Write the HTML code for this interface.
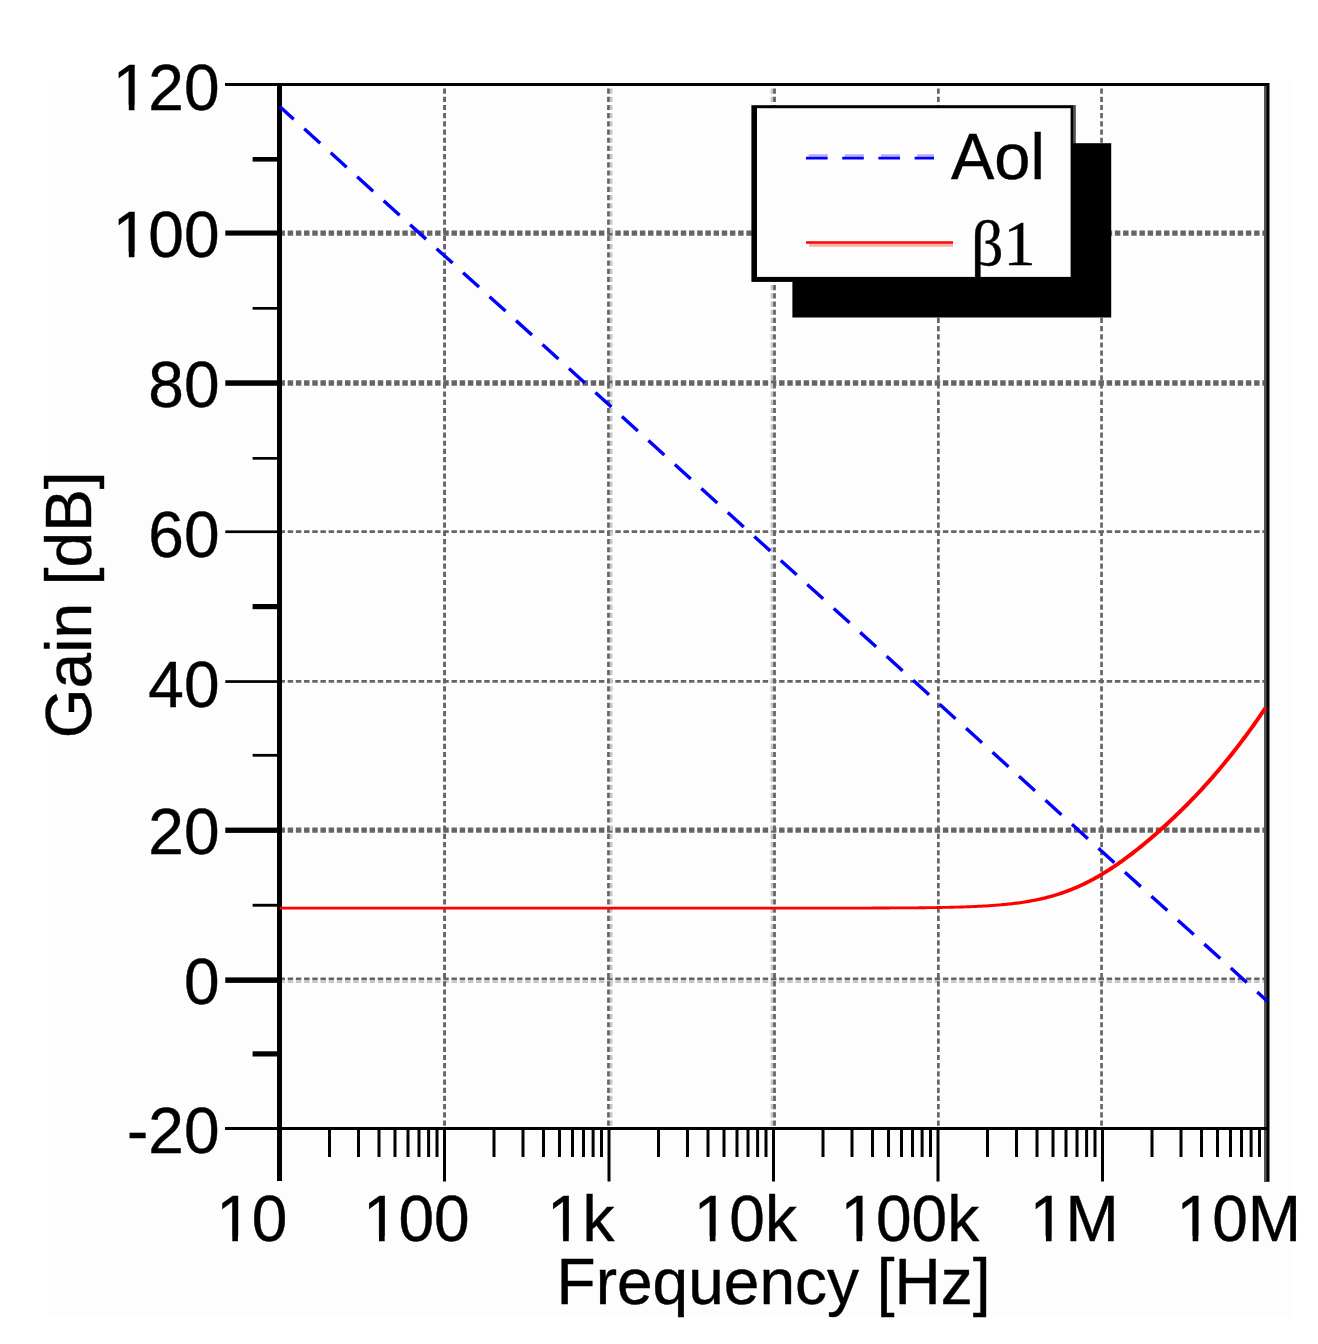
<!DOCTYPE html>
<html><head><meta charset="utf-8"><style>
html,body{margin:0;padding:0;background:#fff;}
svg{display:block;}
text{font-family:"Liberation Sans",sans-serif;fill:#000;stroke:#000;stroke-width:0.4px;}
</style></head><body>
<svg width="1318" height="1344" viewBox="0 0 1318 1344">
<rect x="0" y="0" width="1318" height="1344" fill="#fff"/>
<rect x="48" y="80" width="1245" height="1238" fill="#fdfdfd"/>

<defs><mask id="nofoot" maskUnits="userSpaceOnUse" x="0" y="0" width="1318" height="1344"><rect x="0" y="0" width="1318" height="1344" fill="#fff"/>
<rect x="116.47" y="104.84" width="12.34" height="6.88" fill="#000"/>
<rect x="134.47" y="104.84" width="12.00" height="6.88" fill="#000"/>
<rect x="116.47" y="251.74" width="12.34" height="6.88" fill="#000"/>
<rect x="134.47" y="251.74" width="12.00" height="6.88" fill="#000"/>
<rect x="219.96" y="1235.84" width="12.34" height="6.88" fill="#000"/>
<rect x="237.96" y="1235.84" width="12.00" height="6.88" fill="#000"/>
<rect x="366.66" y="1235.84" width="12.34" height="6.88" fill="#000"/>
<rect x="384.66" y="1235.84" width="12.00" height="6.88" fill="#000"/>
<rect x="550.75" y="1235.84" width="12.34" height="6.88" fill="#000"/>
<rect x="568.75" y="1235.84" width="12.00" height="6.88" fill="#000"/>
<rect x="697.46" y="1235.84" width="12.34" height="6.88" fill="#000"/>
<rect x="715.46" y="1235.84" width="12.00" height="6.88" fill="#000"/>
<rect x="844.16" y="1235.84" width="12.34" height="6.88" fill="#000"/>
<rect x="862.16" y="1235.84" width="12.00" height="6.88" fill="#000"/>
<rect x="1033.60" y="1235.84" width="12.34" height="6.88" fill="#000"/>
<rect x="1051.60" y="1235.84" width="12.00" height="6.88" fill="#000"/>
<rect x="1180.30" y="1235.84" width="12.34" height="6.88" fill="#000"/>
<rect x="1198.30" y="1235.84" width="12.00" height="6.88" fill="#000"/>
</mask></defs>
<line x1="282" y1="233.20" x2="1264" y2="233.20" stroke="#686464" stroke-width="5.20" stroke-dasharray="5.46 2.73" stroke-dashoffset="2.5"/>
<line x1="282" y1="383.05" x2="1264" y2="383.05" stroke="#686464" stroke-width="5.50" stroke-dasharray="5.46 2.73" stroke-dashoffset="2.5"/>
<line x1="282" y1="531.70" x2="1264" y2="531.70" stroke="#686464" stroke-width="2.80" stroke-dasharray="5.46 2.73" stroke-dashoffset="2.5"/>
<line x1="282" y1="681.40" x2="1264" y2="681.40" stroke="#686464" stroke-width="2.80" stroke-dasharray="5.46 2.73" stroke-dashoffset="2.5"/>
<line x1="282" y1="830.15" x2="1264" y2="830.15" stroke="#686464" stroke-width="5.30" stroke-dasharray="5.46 2.73" stroke-dashoffset="2.5"/>
<line x1="282" y1="978.85" x2="1264" y2="978.85" stroke="#686464" stroke-width="2.70" stroke-dasharray="5.46 2.73" stroke-dashoffset="2.5"/>
<line x1="282" y1="981.55" x2="1264" y2="981.55" stroke="#c4c8cc" stroke-width="2.70" stroke-dasharray="5.46 2.73" stroke-dashoffset="2.5"/>
<line x1="444.55" y1="86" x2="444.55" y2="1127" stroke="#686464" stroke-width="2.90" stroke-dasharray="5.2 2.99" stroke-dashoffset="5.69"/>
<line x1="608.50" y1="86" x2="608.50" y2="1127" stroke="#686464" stroke-width="2.80" stroke-dasharray="5.2 2.99" stroke-dashoffset="5.69"/>
<line x1="611.20" y1="86" x2="611.20" y2="1127" stroke="#c4c8cc" stroke-width="2.60" stroke-dasharray="5.2 2.99" stroke-dashoffset="5.69"/>
<line x1="771.85" y1="86" x2="771.85" y2="1127" stroke="#c4c8cc" stroke-width="2.50" stroke-dasharray="5.2 2.99" stroke-dashoffset="5.69"/>
<line x1="774.50" y1="86" x2="774.50" y2="1127" stroke="#686464" stroke-width="2.80" stroke-dasharray="5.2 2.99" stroke-dashoffset="5.69"/>
<line x1="938.35" y1="86" x2="938.35" y2="1127" stroke="#686464" stroke-width="2.70" stroke-dasharray="5.2 2.99" stroke-dashoffset="5.69"/>
<line x1="1101.55" y1="86" x2="1101.55" y2="1127" stroke="#686464" stroke-width="2.70" stroke-dasharray="5.2 2.99" stroke-dashoffset="5.69"/>
<rect x="225" y="83" width="1044" height="3" fill="#000"/>
<rect x="225" y="1127" width="1044" height="3" fill="#000"/>
<rect x="277" y="83" width="5" height="1098" fill="#000"/>
<rect x="1264" y="83" width="5.5" height="1098.8" fill="#000"/>
<rect x="1264" y="86" width="2.5" height="1041" fill="#555"/>
<rect x="1264" y="1130" width="2.5" height="51.8" fill="#555"/>
<rect x="225.3" y="230.5" width="54" height="5.10" fill="#000"/>
<rect x="225.3" y="380.3" width="54" height="5.50" fill="#000"/>
<rect x="225.3" y="530.4" width="54" height="2.70" fill="#000"/>
<rect x="225.3" y="680.2" width="54" height="2.70" fill="#000"/>
<rect x="225.3" y="827.6" width="54" height="5.30" fill="#000"/>
<rect x="225.3" y="977.4" width="54" height="5.50" fill="#000"/>
<rect x="252.6" y="157.0" width="27" height="4.60" fill="#000"/>
<rect x="252.6" y="307.0" width="27" height="2.70" fill="#000"/>
<rect x="252.6" y="457.0" width="27" height="2.70" fill="#000"/>
<rect x="252.6" y="604.0" width="27" height="5.20" fill="#000"/>
<rect x="252.6" y="753.9" width="27" height="2.80" fill="#000"/>
<rect x="252.6" y="903.8" width="27" height="2.90" fill="#000"/>
<rect x="252.6" y="1051.3" width="27" height="5.20" fill="#000"/>
<rect x="443.0" y="1130" width="3" height="51.5" fill="#000"/>
<rect x="607.5" y="1130" width="3" height="51.5" fill="#000"/>
<rect x="772.0" y="1130" width="3" height="51.5" fill="#000"/>
<rect x="936.5" y="1130" width="3" height="51.5" fill="#000"/>
<rect x="1101.0" y="1130" width="3" height="51.5" fill="#000"/>
<rect x="328.0" y="1130" width="3" height="27" fill="#000"/>
<rect x="357.0" y="1130" width="3" height="27" fill="#000"/>
<rect x="377.5" y="1130" width="3" height="27" fill="#000"/>
<rect x="393.5" y="1130" width="3" height="27" fill="#000"/>
<rect x="406.5" y="1130" width="3" height="27" fill="#000"/>
<rect x="417.5" y="1130" width="3" height="27" fill="#000"/>
<rect x="427.1" y="1130" width="3" height="27" fill="#000"/>
<rect x="435.5" y="1130" width="3" height="27" fill="#000"/>
<rect x="492.5" y="1130" width="3" height="27" fill="#000"/>
<rect x="521.5" y="1130" width="3" height="27" fill="#000"/>
<rect x="542.0" y="1130" width="3" height="27" fill="#000"/>
<rect x="558.0" y="1130" width="3" height="27" fill="#000"/>
<rect x="571.0" y="1130" width="3" height="27" fill="#000"/>
<rect x="582.0" y="1130" width="3" height="27" fill="#000"/>
<rect x="591.6" y="1130" width="3" height="27" fill="#000"/>
<rect x="600.0" y="1130" width="3" height="27" fill="#000"/>
<rect x="657.0" y="1130" width="3" height="27" fill="#000"/>
<rect x="686.0" y="1130" width="3" height="27" fill="#000"/>
<rect x="706.5" y="1130" width="3" height="27" fill="#000"/>
<rect x="722.5" y="1130" width="3" height="27" fill="#000"/>
<rect x="735.5" y="1130" width="3" height="27" fill="#000"/>
<rect x="746.5" y="1130" width="3" height="27" fill="#000"/>
<rect x="756.1" y="1130" width="3" height="27" fill="#000"/>
<rect x="764.5" y="1130" width="3" height="27" fill="#000"/>
<rect x="821.5" y="1130" width="3" height="27" fill="#000"/>
<rect x="850.5" y="1130" width="3" height="27" fill="#000"/>
<rect x="871.0" y="1130" width="3" height="27" fill="#000"/>
<rect x="887.0" y="1130" width="3" height="27" fill="#000"/>
<rect x="900.0" y="1130" width="3" height="27" fill="#000"/>
<rect x="911.0" y="1130" width="3" height="27" fill="#000"/>
<rect x="920.6" y="1130" width="3" height="27" fill="#000"/>
<rect x="929.0" y="1130" width="3" height="27" fill="#000"/>
<rect x="986.0" y="1130" width="3" height="27" fill="#000"/>
<rect x="1015.0" y="1130" width="3" height="27" fill="#000"/>
<rect x="1035.5" y="1130" width="3" height="27" fill="#000"/>
<rect x="1051.5" y="1130" width="3" height="27" fill="#000"/>
<rect x="1064.5" y="1130" width="3" height="27" fill="#000"/>
<rect x="1075.5" y="1130" width="3" height="27" fill="#000"/>
<rect x="1085.1" y="1130" width="3" height="27" fill="#000"/>
<rect x="1093.5" y="1130" width="3" height="27" fill="#000"/>
<rect x="1150.5" y="1130" width="3" height="27" fill="#000"/>
<rect x="1179.5" y="1130" width="3" height="27" fill="#000"/>
<rect x="1200.0" y="1130" width="3" height="27" fill="#000"/>
<rect x="1216.0" y="1130" width="3" height="27" fill="#000"/>
<rect x="1229.0" y="1130" width="3" height="27" fill="#000"/>
<rect x="1240.0" y="1130" width="3" height="27" fill="#000"/>
<rect x="1249.6" y="1130" width="3" height="27" fill="#000"/>
<rect x="1258.0" y="1130" width="3" height="27" fill="#000"/>
<line x1="280" y1="106.8" x2="1267" y2="1000.9" stroke="#0000ff" stroke-width="3.4" stroke-dasharray="21.5 14.22" stroke-dashoffset="3.0"/>
<polygon points="280.00,906.73 280.24,906.73 281.88,906.73 283.53,906.73 285.17,906.73 286.81,906.73 288.45,906.73 290.10,906.73 291.74,906.73 293.38,906.73 295.03,906.73 296.67,906.73 298.31,906.73 299.95,906.73 301.60,906.73 303.24,906.73 304.88,906.73 306.52,906.73 308.17,906.73 309.81,906.73 311.45,906.73 313.09,906.73 314.74,906.73 316.38,906.73 318.02,906.73 319.66,906.73 321.31,906.73 322.95,906.73 324.59,906.73 326.23,906.73 327.88,906.73 329.52,906.73 331.16,906.73 332.80,906.73 334.45,906.73 336.09,906.73 337.73,906.73 339.37,906.73 341.01,906.73 342.66,906.73 344.30,906.73 345.94,906.73 347.59,906.73 349.23,906.73 350.87,906.73 352.51,906.73 354.16,906.73 355.80,906.73 357.44,906.73 359.08,906.73 360.73,906.73 362.37,906.73 364.01,906.73 365.65,906.73 367.30,906.73 368.94,906.73 370.58,906.73 372.22,906.73 373.87,906.73 375.51,906.73 377.15,906.73 378.79,906.73 380.44,906.73 382.08,906.73 383.72,906.73 385.36,906.73 387.00,906.73 388.65,906.73 390.29,906.73 391.93,906.73 393.58,906.73 395.22,906.73 396.86,906.73 398.50,906.73 400.14,906.73 401.79,906.73 403.43,906.73 405.07,906.73 406.72,906.73 408.36,906.73 410.00,906.73 411.64,906.73 413.29,906.73 414.93,906.73 416.57,906.73 418.21,906.73 419.86,906.73 421.50,906.73 423.14,906.73 424.78,906.73 426.43,906.73 428.07,906.73 429.71,906.73 431.35,906.73 433.00,906.73 434.64,906.73 436.28,906.73 437.92,906.73 439.57,906.73 441.21,906.73 442.85,906.73 444.49,906.73 446.13,906.73 447.78,906.73 449.42,906.73 451.06,906.73 452.71,906.73 454.35,906.73 455.99,906.73 457.63,906.73 459.27,906.73 460.92,906.73 462.56,906.73 464.20,906.73 465.84,906.73 467.49,906.73 469.13,906.73 470.77,906.73 472.41,906.73 474.06,906.73 475.70,906.73 477.34,906.73 478.98,906.73 480.63,906.73 482.27,906.73 483.91,906.73 485.56,906.73 487.20,906.73 488.84,906.73 490.48,906.73 492.12,906.73 493.77,906.73 495.41,906.73 497.05,906.73 498.70,906.73 500.34,906.73 501.98,906.73 503.62,906.73 505.26,906.73 506.91,906.73 508.55,906.73 510.19,906.73 511.84,906.73 513.48,906.73 515.12,906.73 516.76,906.73 518.41,906.73 520.05,906.73 521.69,906.73 523.33,906.73 524.98,906.73 526.62,906.73 528.26,906.73 529.90,906.73 531.55,906.73 533.19,906.73 534.83,906.73 536.47,906.73 538.12,906.73 539.76,906.73 541.40,906.73 543.04,906.73 544.69,906.73 546.33,906.73 547.97,906.73 549.61,906.73 551.25,906.73 552.90,906.73 554.54,906.73 556.18,906.73 557.82,906.73 559.47,906.73 561.11,906.73 562.75,906.73 564.39,906.73 566.04,906.73 567.68,906.73 569.32,906.73 570.97,906.73 572.61,906.73 574.25,906.73 575.89,906.73 577.53,906.73 579.18,906.73 580.82,906.73 582.46,906.73 584.10,906.73 585.75,906.73 587.39,906.73 589.03,906.73 590.67,906.73 592.32,906.73 593.96,906.73 595.60,906.73 597.25,906.73 598.89,906.73 600.53,906.73 602.17,906.73 603.82,906.73 605.46,906.73 607.10,906.73 608.74,906.73 610.38,906.73 612.03,906.73 613.67,906.73 615.31,906.73 616.96,906.73 618.60,906.73 620.24,906.73 621.88,906.73 623.52,906.73 625.17,906.73 626.81,906.73 628.45,906.73 630.09,906.73 631.74,906.73 633.38,906.73 635.02,906.73 636.66,906.73 638.31,906.73 639.95,906.73 641.59,906.73 643.24,906.73 644.88,906.73 646.52,906.73 648.16,906.73 649.80,906.73 651.45,906.73 653.09,906.73 654.73,906.73 656.38,906.73 658.02,906.73 659.66,906.73 661.30,906.73 662.95,906.73 664.59,906.73 666.23,906.73 667.87,906.73 669.51,906.73 671.16,906.73 672.80,906.73 674.44,906.73 676.08,906.73 677.73,906.73 679.37,906.73 681.01,906.73 682.66,906.73 684.30,906.73 685.94,906.73 687.58,906.73 689.23,906.73 690.87,906.73 692.51,906.73 694.15,906.72 695.79,906.72 697.44,906.72 699.08,906.72 700.72,906.72 702.37,906.72 704.01,906.72 705.65,906.72 707.29,906.72 708.94,906.72 710.58,906.72 712.22,906.72 713.86,906.72 715.50,906.72 717.15,906.72 718.79,906.72 720.43,906.72 722.07,906.72 723.72,906.72 725.36,906.72 727.00,906.72 728.64,906.72 730.29,906.72 731.93,906.72 733.57,906.72 735.22,906.72 736.86,906.72 738.50,906.72 740.14,906.72 741.78,906.72 743.43,906.72 745.07,906.72 746.71,906.72 748.35,906.72 750.00,906.72 751.64,906.72 753.28,906.72 754.92,906.72 756.57,906.72 758.21,906.72 759.85,906.72 761.50,906.72 763.14,906.72 764.78,906.72 766.42,906.72 768.06,906.72 769.71,906.72 771.35,906.72 772.99,906.72 774.63,906.72 776.28,906.72 777.92,906.72 779.56,906.72 781.21,906.72 782.85,906.72 784.49,906.72 786.13,906.72 787.77,906.72 789.42,906.72 791.06,906.72 792.70,906.72 794.34,906.71 795.99,906.71 797.63,906.71 799.27,906.71 800.92,906.71 802.56,906.71 804.20,906.71 805.84,906.71 807.48,906.71 809.13,906.71 810.77,906.71 812.41,906.71 814.06,906.71 815.70,906.71 817.34,906.70 818.98,906.70 820.62,906.70 822.27,906.70 823.91,906.70 825.55,906.70 827.20,906.70 828.84,906.70 830.48,906.70 832.12,906.69 833.77,906.69 835.41,906.69 837.05,906.69 838.69,906.69 840.34,906.69 841.98,906.68 843.62,906.68 845.26,906.68 846.90,906.68 848.55,906.67 850.19,906.67 851.83,906.67 853.48,906.67 855.12,906.66 856.76,906.66 858.40,906.66 860.04,906.66 861.69,906.65 863.33,906.65 864.97,906.65 866.62,906.64 868.26,906.64 869.90,906.63 871.54,906.63 873.18,906.62 874.83,906.62 876.47,906.61 878.11,906.61 879.75,906.60 881.40,906.60 883.04,906.59 884.68,906.59 886.32,906.58 887.97,906.57 889.61,906.57 891.25,906.56 892.89,906.55 894.54,906.54 896.18,906.53 897.82,906.52 899.47,906.52 901.11,906.51 902.75,906.49 904.39,906.48 906.03,906.47 907.68,906.46 909.32,906.45 910.96,906.44 912.61,906.42 914.25,906.41 915.89,906.39 917.53,906.38 919.17,906.36 920.82,906.34 922.46,906.33 924.10,906.31 925.75,906.29 927.39,906.27 929.03,906.25 930.67,906.22 932.31,906.20 933.96,906.18 935.60,906.15 937.24,906.12 938.88,906.09 940.53,906.07 942.17,906.03 943.81,906.00 945.45,905.97 947.10,905.93 948.74,905.90 950.38,905.86 952.02,905.82 953.67,905.78 955.31,905.73 956.95,905.69 958.59,905.64 960.24,905.59 961.88,905.54 963.52,905.48 965.16,905.42 966.81,905.36 968.45,905.30 970.09,905.23 971.74,905.17 973.38,905.09 975.02,905.02 976.66,904.94 978.31,904.86 979.95,904.77 981.59,904.69 983.23,904.59 984.88,904.50 986.52,904.39 988.16,904.29 989.80,904.18 991.44,904.06 993.09,903.94 994.73,903.82 996.37,903.69 998.01,903.55 999.66,903.41 1001.30,903.26 1002.94,903.10 1004.58,902.94 1006.23,902.78 1007.87,902.60 1009.51,902.42 1011.15,902.23 1012.80,902.03 1014.44,901.83 1016.08,901.61 1017.72,901.39 1019.37,901.16 1021.01,900.92 1022.65,900.67 1024.29,900.41 1025.94,900.14 1027.58,899.86 1029.22,899.57 1030.86,899.27 1032.51,898.96 1034.15,898.63 1035.79,898.30 1037.43,897.95 1039.08,897.59 1040.72,897.21 1042.36,896.83 1044.01,896.43 1045.65,896.01 1047.29,895.59 1048.93,895.14 1050.57,894.69 1052.22,894.21 1053.86,893.73 1055.50,893.23 1057.14,892.71 1058.79,892.17 1060.43,891.62 1062.07,891.06 1063.71,890.47 1065.36,889.87 1067.00,889.26 1068.64,888.62 1070.28,887.97 1071.93,887.30 1073.57,886.62 1075.21,885.92 1076.86,885.19 1078.50,884.46 1080.14,883.70 1081.78,882.93 1083.42,882.13 1085.07,881.32 1086.71,880.50 1088.35,879.65 1089.99,878.79 1091.64,877.91 1093.28,877.01 1094.92,876.09 1096.56,875.16 1098.21,874.21 1099.85,873.24 1101.49,872.26 1103.13,871.26 1104.78,870.24 1106.42,869.20 1108.06,868.15 1109.70,867.09 1111.35,866.00 1112.99,864.90 1114.63,863.79 1116.27,862.66 1117.92,861.52 1119.56,860.36 1121.20,859.18 1122.85,857.99 1124.49,856.79 1126.13,855.57 1127.77,854.34 1129.41,853.10 1131.06,851.84 1132.70,850.57 1134.34,849.29 1135.99,847.99 1137.63,846.68 1139.27,845.36 1140.91,844.02 1142.55,842.68 1144.20,841.32 1145.84,839.95 1147.48,838.56 1149.12,837.17 1150.77,835.76 1152.41,834.34 1154.05,832.91 1155.69,831.47 1157.34,830.02 1158.98,828.56 1160.62,827.08 1162.26,825.60 1163.91,824.10 1165.55,822.59 1167.19,821.07 1168.84,819.54 1170.48,817.99 1172.12,816.44 1173.76,814.87 1175.40,813.29 1177.05,811.70 1178.69,810.10 1180.33,808.49 1181.97,806.86 1183.62,805.23 1185.26,803.58 1186.90,801.91 1188.54,800.24 1190.19,798.55 1191.83,796.85 1193.47,795.14 1195.11,793.41 1196.76,791.67 1198.40,789.91 1200.04,788.14 1201.68,786.36 1203.33,784.56 1204.97,782.75 1206.61,780.93 1208.25,779.08 1209.90,777.23 1211.54,775.36 1213.18,773.47 1214.82,771.56 1216.47,769.64 1218.11,767.71 1219.75,765.76 1221.39,763.79 1223.04,761.80 1224.68,759.80 1226.32,757.78 1227.96,755.74 1229.61,753.69 1231.25,751.62 1232.89,749.53 1234.53,747.42 1236.18,745.30 1237.82,743.15 1239.46,740.99 1241.10,738.82 1242.75,736.62 1244.39,734.41 1246.03,732.18 1247.67,729.93 1249.32,727.66 1250.96,725.38 1252.60,723.08 1254.24,720.76 1255.89,718.42 1257.53,716.07 1259.17,713.70 1260.81,711.31 1262.46,708.91 1264.10,706.48 1266.90,709.28 1265.26,711.71 1263.62,714.11 1261.97,716.50 1260.33,718.87 1258.69,721.22 1257.05,723.56 1255.40,725.88 1253.76,728.18 1252.12,730.46 1250.47,732.73 1248.83,734.98 1247.19,737.21 1245.55,739.42 1243.90,741.62 1242.26,743.79 1240.62,745.95 1238.98,748.10 1237.34,750.22 1235.69,752.33 1234.05,754.42 1232.41,756.49 1230.76,758.54 1229.12,760.58 1227.48,762.60 1225.84,764.60 1224.20,766.59 1222.55,768.56 1220.91,770.51 1219.27,772.44 1217.62,774.36 1215.98,776.27 1214.34,778.16 1212.70,780.03 1211.06,781.88 1209.41,783.73 1207.77,785.55 1206.13,787.36 1204.49,789.16 1202.84,790.94 1201.20,792.71 1199.56,794.47 1197.91,796.21 1196.27,797.94 1194.63,799.65 1192.99,801.35 1191.34,803.04 1189.70,804.71 1188.06,806.38 1186.42,808.03 1184.78,809.66 1183.13,811.29 1181.49,812.90 1179.85,814.50 1178.20,816.09 1176.56,817.67 1174.92,819.24 1173.28,820.79 1171.64,822.34 1169.99,823.87 1168.35,825.39 1166.71,826.90 1165.07,828.40 1163.42,829.88 1161.78,831.36 1160.14,832.82 1158.50,834.27 1156.85,835.71 1155.21,837.14 1153.57,838.56 1151.93,839.97 1150.28,841.36 1148.64,842.75 1147.00,844.12 1145.36,845.48 1143.71,846.82 1142.07,848.16 1140.43,849.48 1138.79,850.79 1137.14,852.09 1135.50,853.37 1133.86,854.64 1132.22,855.90 1130.57,857.14 1128.93,858.37 1127.29,859.59 1125.65,860.79 1124.00,861.98 1122.36,863.16 1120.72,864.32 1119.08,865.46 1117.43,866.59 1115.79,867.70 1114.15,868.80 1112.51,869.89 1110.86,870.95 1109.22,872.00 1107.58,873.04 1105.93,874.06 1104.29,875.06 1102.65,876.04 1101.01,877.01 1099.37,877.96 1097.72,878.89 1096.08,879.81 1094.44,880.71 1092.80,881.59 1091.15,882.45 1089.51,883.30 1087.87,884.12 1086.22,884.93 1084.58,885.73 1082.94,886.50 1081.30,887.26 1079.66,887.99 1078.01,888.72 1076.37,889.42 1074.73,890.10 1073.09,890.77 1071.44,891.42 1069.80,892.06 1068.16,892.67 1066.52,893.27 1064.87,893.86 1063.23,894.42 1061.59,894.97 1059.95,895.51 1058.30,896.03 1056.66,896.53 1055.02,897.01 1053.38,897.49 1051.73,897.94 1050.09,898.39 1048.45,898.81 1046.81,899.23 1045.16,899.63 1043.52,900.01 1041.88,900.39 1040.24,900.75 1038.59,901.10 1036.95,901.43 1035.31,901.76 1033.66,902.07 1032.02,902.37 1030.38,902.66 1028.74,902.94 1027.10,903.21 1025.45,903.47 1023.81,903.72 1022.17,903.96 1020.52,904.19 1018.88,904.41 1017.24,904.63 1015.60,904.83 1013.95,905.03 1012.31,905.22 1010.67,905.40 1009.03,905.58 1007.38,905.74 1005.74,905.90 1004.10,906.06 1002.46,906.21 1000.81,906.35 999.17,906.49 997.53,906.62 995.89,906.74 994.24,906.86 992.60,906.98 990.96,907.09 989.32,907.19 987.67,907.30 986.03,907.39 984.39,907.49 982.75,907.57 981.11,907.66 979.46,907.74 977.82,907.82 976.18,907.89 974.53,907.97 972.89,908.03 971.25,908.10 969.61,908.16 967.96,908.22 966.32,908.28 964.68,908.34 963.04,908.39 961.39,908.44 959.75,908.49 958.11,908.53 956.47,908.58 954.82,908.62 953.18,908.66 951.54,908.70 949.90,908.73 948.25,908.77 946.61,908.80 944.97,908.83 943.33,908.87 941.68,908.89 940.04,908.92 938.40,908.95 936.76,908.98 935.11,909.00 933.47,909.02 931.83,909.05 930.19,909.07 928.55,909.09 926.90,909.11 925.26,909.13 923.62,909.14 921.97,909.16 920.33,909.18 918.69,909.19 917.05,909.21 915.41,909.22 913.76,909.24 912.12,909.25 910.48,909.26 908.83,909.27 907.19,909.28 905.55,909.29 903.91,909.31 902.27,909.32 900.62,909.32 898.98,909.33 897.34,909.34 895.69,909.35 894.05,909.36 892.41,909.37 890.77,909.37 889.12,909.38 887.48,909.39 885.84,909.39 884.20,909.40 882.55,909.40 880.91,909.41 879.27,909.41 877.63,909.42 875.98,909.42 874.34,909.43 872.70,909.43 871.06,909.44 869.41,909.44 867.77,909.45 866.13,909.45 864.49,909.45 862.84,909.46 861.20,909.46 859.56,909.46 857.92,909.46 856.27,909.47 854.63,909.47 852.99,909.47 851.35,909.47 849.70,909.48 848.06,909.48 846.42,909.48 844.78,909.48 843.13,909.49 841.49,909.49 839.85,909.49 838.21,909.49 836.57,909.49 834.92,909.49 833.28,909.50 831.64,909.50 830.00,909.50 828.35,909.50 826.71,909.50 825.07,909.50 823.42,909.50 821.78,909.50 820.14,909.50 818.50,909.51 816.86,909.51 815.21,909.51 813.57,909.51 811.93,909.51 810.28,909.51 808.64,909.51 807.00,909.51 805.36,909.51 803.72,909.51 802.07,909.51 800.43,909.51 798.79,909.51 797.14,909.51 795.50,909.52 793.86,909.52 792.22,909.52 790.57,909.52 788.93,909.52 787.29,909.52 785.65,909.52 784.00,909.52 782.36,909.52 780.72,909.52 779.08,909.52 777.43,909.52 775.79,909.52 774.15,909.52 772.51,909.52 770.86,909.52 769.22,909.52 767.58,909.52 765.94,909.52 764.29,909.52 762.65,909.52 761.01,909.52 759.37,909.52 757.72,909.52 756.08,909.52 754.44,909.52 752.80,909.52 751.15,909.52 749.51,909.52 747.87,909.52 746.23,909.52 744.58,909.52 742.94,909.52 741.30,909.52 739.66,909.52 738.01,909.52 736.37,909.52 734.73,909.52 733.09,909.52 731.44,909.52 729.80,909.52 728.16,909.52 726.52,909.52 724.87,909.52 723.23,909.52 721.59,909.52 719.95,909.52 718.30,909.52 716.66,909.52 715.02,909.52 713.38,909.52 711.74,909.52 710.09,909.52 708.45,909.52 706.81,909.52 705.16,909.52 703.52,909.52 701.88,909.52 700.24,909.52 698.59,909.52 696.95,909.52 695.31,909.53 693.67,909.53 692.02,909.53 690.38,909.53 688.74,909.53 687.10,909.53 685.46,909.53 683.81,909.53 682.17,909.53 680.53,909.53 678.88,909.53 677.24,909.53 675.60,909.53 673.96,909.53 672.31,909.53 670.67,909.53 669.03,909.53 667.39,909.53 665.75,909.53 664.10,909.53 662.46,909.53 660.82,909.53 659.17,909.53 657.53,909.53 655.89,909.53 654.25,909.53 652.60,909.53 650.96,909.53 649.32,909.53 647.68,909.53 646.03,909.53 644.39,909.53 642.75,909.53 641.11,909.53 639.46,909.53 637.82,909.53 636.18,909.53 634.54,909.53 632.89,909.53 631.25,909.53 629.61,909.53 627.97,909.53 626.32,909.53 624.68,909.53 623.04,909.53 621.40,909.53 619.75,909.53 618.11,909.53 616.47,909.53 614.83,909.53 613.18,909.53 611.54,909.53 609.90,909.53 608.26,909.53 606.62,909.53 604.97,909.53 603.33,909.53 601.69,909.53 600.04,909.53 598.40,909.53 596.76,909.53 595.12,909.53 593.47,909.53 591.83,909.53 590.19,909.53 588.55,909.53 586.90,909.53 585.26,909.53 583.62,909.53 581.98,909.53 580.33,909.53 578.69,909.53 577.05,909.53 575.41,909.53 573.76,909.53 572.12,909.53 570.48,909.53 568.84,909.53 567.19,909.53 565.55,909.53 563.91,909.53 562.27,909.53 560.62,909.53 558.98,909.53 557.34,909.53 555.70,909.53 554.05,909.53 552.41,909.53 550.77,909.53 549.13,909.53 547.49,909.53 545.84,909.53 544.20,909.53 542.56,909.53 540.91,909.53 539.27,909.53 537.63,909.53 535.99,909.53 534.35,909.53 532.70,909.53 531.06,909.53 529.42,909.53 527.77,909.53 526.13,909.53 524.49,909.53 522.85,909.53 521.21,909.53 519.56,909.53 517.92,909.53 516.28,909.53 514.63,909.53 512.99,909.53 511.35,909.53 509.71,909.53 508.06,909.53 506.42,909.53 504.78,909.53 503.14,909.53 501.50,909.53 499.85,909.53 498.21,909.53 496.57,909.53 494.92,909.53 493.28,909.53 491.64,909.53 490.00,909.53 488.36,909.53 486.71,909.53 485.07,909.53 483.43,909.53 481.78,909.53 480.14,909.53 478.50,909.53 476.86,909.53 475.21,909.53 473.57,909.53 471.93,909.53 470.29,909.53 468.64,909.53 467.00,909.53 465.36,909.53 463.72,909.53 462.07,909.53 460.43,909.53 458.79,909.53 457.15,909.53 455.50,909.53 453.86,909.53 452.22,909.53 450.58,909.53 448.93,909.53 447.29,909.53 445.65,909.53 444.01,909.53 442.37,909.53 440.72,909.53 439.08,909.53 437.44,909.53 435.79,909.53 434.15,909.53 432.51,909.53 430.87,909.53 429.23,909.53 427.58,909.53 425.94,909.53 424.30,909.53 422.65,909.53 421.01,909.53 419.37,909.53 417.73,909.53 416.08,909.53 414.44,909.53 412.80,909.53 411.16,909.53 409.51,909.53 407.87,909.53 406.23,909.53 404.59,909.53 402.94,909.53 401.30,909.53 399.66,909.53 398.02,909.53 396.38,909.53 394.73,909.53 393.09,909.53 391.45,909.53 389.80,909.53 388.16,909.53 386.52,909.53 384.88,909.53 383.24,909.53 381.59,909.53 379.95,909.53 378.31,909.53 376.66,909.53 375.02,909.53 373.38,909.53 371.74,909.53 370.09,909.53 368.45,909.53 366.81,909.53 365.17,909.53 363.52,909.53 361.88,909.53 360.24,909.53 358.60,909.53 356.95,909.53 355.31,909.53 353.67,909.53 352.03,909.53 350.38,909.53 348.74,909.53 347.10,909.53 345.46,909.53 343.81,909.53 342.17,909.53 340.53,909.53 338.89,909.53 337.25,909.53 335.60,909.53 333.96,909.53 332.32,909.53 330.67,909.53 329.03,909.53 327.39,909.53 325.75,909.53 324.11,909.53 322.46,909.53 320.82,909.53 319.18,909.53 317.53,909.53 315.89,909.53 314.25,909.53 312.61,909.53 310.96,909.53 309.32,909.53 307.68,909.53 306.04,909.53 304.39,909.53 302.75,909.53 301.11,909.53 299.47,909.53 297.82,909.53 296.18,909.53 294.54,909.53 292.90,909.53 291.25,909.53 289.61,909.53 287.97,909.53 286.33,909.53 284.68,909.53 283.04,909.53 280.00,909.53" fill="#ff0000"/>
<rect x="792.4" y="143.2" width="318.8" height="174.3" fill="#000"/>
<rect x="751.4" y="105.2" width="324.1" height="176.7" fill="#000"/>
<rect x="757" y="108.2" width="313.6" height="168.7" fill="#fdfdfd"/>
<rect x="1073.2" y="105.2" width="2.3" height="38" fill="#555"/>
<line x1="808.6" y1="155.5" x2="934" y2="155.5" stroke="#bca8ee" stroke-width="2.6" stroke-dasharray="19.1 17.1"/>
<line x1="806" y1="158.2" x2="934" y2="158.2" stroke="#0000ff" stroke-width="2.8" stroke-dasharray="21.6 14.6"/>
<line x1="809" y1="245.3" x2="953" y2="245.3" stroke="#f2b4a4" stroke-width="3"/>
<line x1="806" y1="242.5" x2="953" y2="242.5" stroke="#ff0000" stroke-width="2.6"/>
<text x="951" y="178.7" font-size="65">Aol</text>
<text x="971" y="264.5" font-size="64" style="font-family:'Liberation Serif',serif">β1</text>
<g mask="url(#nofoot)">
<text x="112.72" y="110.00" font-size="64">120</text>
<text x="112.72" y="256.90" font-size="64">100</text>
<text x="148.31" y="407.00" font-size="64">80</text>
<text x="148.31" y="556.50" font-size="64">60</text>
<text x="148.31" y="706.60" font-size="64">40</text>
<text x="148.31" y="853.90" font-size="64">20</text>
<text x="183.91" y="1004.10" font-size="64">0</text>
<text x="127.00" y="1153.10" font-size="64">-20</text>
<text x="216.21" y="1241.00" font-size="64">10</text>
<text x="362.91" y="1241.00" font-size="64">100</text>
<text x="547.00" y="1241.00" font-size="64">1k</text>
<text x="693.71" y="1241.00" font-size="64">10k</text>
<text x="840.41" y="1241.00" font-size="64">100k</text>
<text x="1029.85" y="1241.00" font-size="64">1M</text>
<text x="1176.55" y="1241.00" font-size="64">10M</text>
</g>
<text x="556.6" y="1304" font-size="64">Frequency [Hz]</text>
<text transform="translate(90.6,738.2) rotate(-90)" x="0" y="0" font-size="64">Gain [dB]</text>
</svg></body></html>
